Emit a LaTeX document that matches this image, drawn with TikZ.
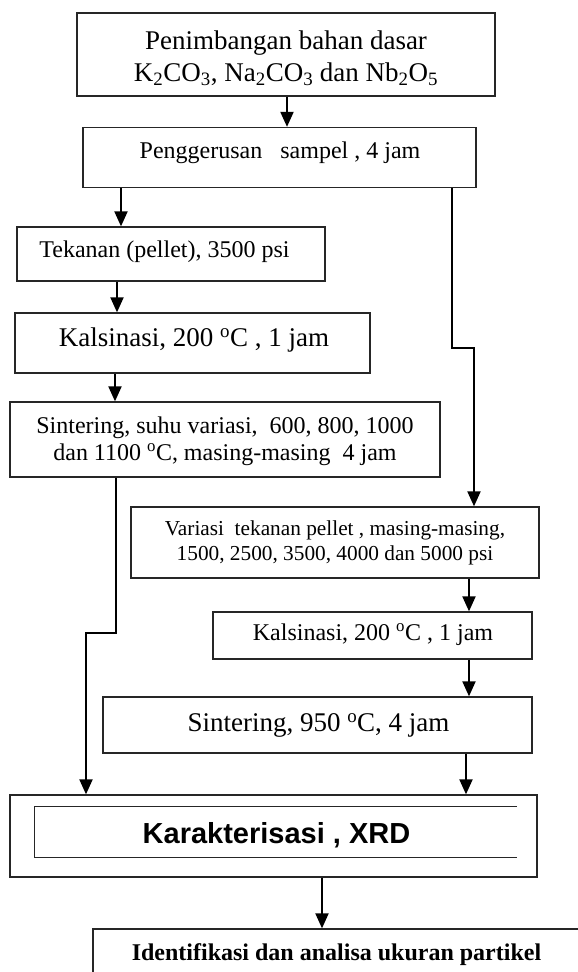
\documentclass[tikz,border=0pt]{standalone}
\usepackage{fontspec}
\setmainfont{Liberation Serif}
\newfontfamily\arialfont{Liberation Sans}
\usetikzlibrary{arrows.meta}
\tikzset{
  box/.style={draw=black!85, line width=1.3pt, inner sep=0pt, rectangle},
  txt/.style={inner sep=0pt, align=center},
  arr/.style={line width=2pt, -{Triangle[length=15pt,width=13pt]}},
  ln/.style={line width=2pt}
}
\newcommand{\fs}[2]{\fontsize{#1}{#2}\selectfont}
\newcommand{\dgr}{\textsuperscript{o}}
\begin{document}
\begin{tikzpicture}[x=1pt,y=-1pt]
\useasboundingbox (0,0) rectangle (578,972);
\clip (0,0) rectangle (578,972);
% boxes
\node[box, minimum width=418pt, minimum height=83pt] (b1) at (286,54.5) {};
\node[box, minimum width=393pt, minimum height=60pt] (b2) at (279.5,157.5) {};
\node[box, minimum width=308pt, minimum height=54pt] (b3) at (171,254) {};
\node[box, minimum width=355pt, minimum height=60pt] (b4) at (192.5,343) {};
\node[box, minimum width=430pt, minimum height=75pt] (b5) at (225,439.5) {};
\node[box, minimum width=408pt, minimum height=71pt] (b6) at (335,542.5) {};
\node[box, minimum width=319pt, minimum height=47pt] (b7) at (372.5,635.5) {};
\node[box, minimum width=429pt, minimum height=56pt] (b8) at (317.5,725) {};
\node[box, minimum width=527pt, minimum height=82pt] (b9) at (273.5,836) {};
\node[inner sep=0pt, minimum width=482pt, minimum height=50pt] (b9i) at (276,832) {};
\draw[line width=1.3pt, draw=black!85] (b9i.north east) -- (b9i.north west) -- (b9i.south west) -- (b9i.south east);
\node[box, minimum width=507pt, minimum height=72pt] (b10) at (346.5,965) {};
% texts
\node[txt, font=\fs{27}{32}] (t1) at (286,58) {Penimbangan bahan dasar\\K\textsubscript{2}CO\textsubscript{3}, Na\textsubscript{2}CO\textsubscript{3} dan Nb\textsubscript{2}O\textsubscript{5}};
\node[txt, font=\fs{24}{29}] (t2) at (280,153) {Penggerusan \ \ sampel , 4 jam};
\node[txt, font=\fs{24}{29}] (t3) at (164.5,252) {Tekanan (pellet), 3500 psi};
\node[txt, font=\fs{27}{32}] (t4) at (194,340) {Kalsinasi, 200 \dgr C , 1 jam};
\node[txt, font=\fs{24}{27}] (t5) at (225,441) {Sintering, suhu variasi, \ 600, 800, 1000\\dan 1100 \dgr C, masing-masing \ 4 jam};
\node[txt, font=\fs{21.3}{25}] (t6) at (335,542.5) {Variasi \ tekanan pellet , masing-masing,\\1500, 2500, 3500, 4000 dan 5000 psi};
\node[txt, font=\fs{24}{29}] (t7) at (373,635) {Kalsinasi, 200 \dgr C , 1 jam};
\node[txt, font=\fs{27}{32}] (t8) at (318.5,725) {Sintering, 950 \dgr C, 4 jam};
\node[txt, font=\arialfont\bfseries\fs{29}{34}] (t9) at (276.5,835) {Karakterisasi , XRD};
\node[txt, font=\bfseries\fs{24}{29}] (t10) at (336.5,955) {Identifikasi dan analisa ukuran partikel};
% connectors
\draw[arr] (b1.south -| 287,0) -- (b2.north -| 287,0);
\draw[arr] (b2.south -| 121,0) -- (b3.north -| 121,0);
\draw[arr] (b3.south -| 117,0) -- (b4.north -| 117,0);
\draw[arr] (b4.south -| 115,0) -- (b5.north -| 115,0);
\draw[arr] (b5.south -| 116,0) -- (116,633) -- (86,633) -- (b9.north -| 86,0);
\draw[arr] (b2.south -| 452,0) -- (452,348) -- (474,348) -- (b6.north -| 474,0);
\draw[arr] (b6.south -| 469,0) -- (b7.north -| 469,0);
\draw[arr] (b7.south -| 469,0) -- (b8.north -| 469,0);
\draw[arr] (b8.south -| 466,0) -- (b9.north -| 466,0);
\draw[arr] (b9.south -| 322,0) -- (b10.north -| 322,0);
\end{tikzpicture}
\end{document}
